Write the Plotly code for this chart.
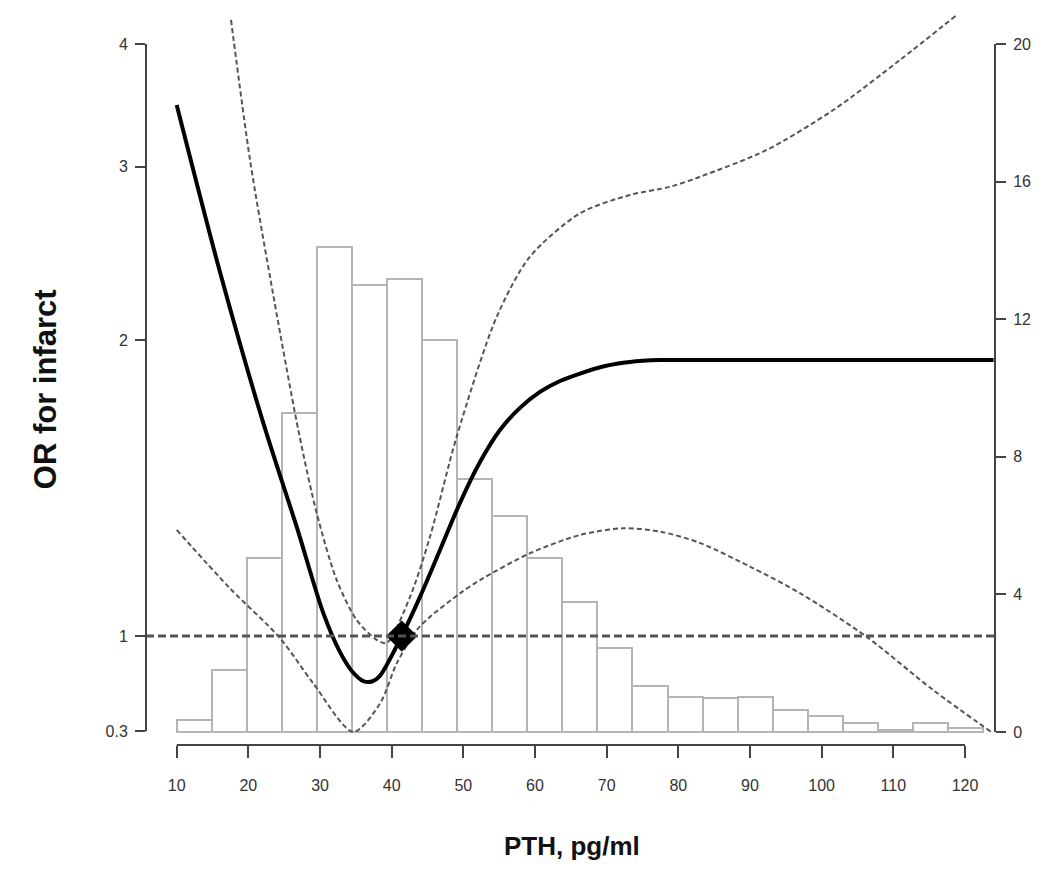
import plotly.graph_objects as go

# ---------------- data ----------------
# Histogram of PTH (percent of patients), bins of 5 pg/ml starting at 10
hist_bin_start = 10
hist_bin_width = 5
hist_pct = [0.35, 1.80, 5.06, 9.27, 14.10, 12.99, 13.17, 11.40, 7.35, 6.28, 5.06,
            3.78, 2.44, 1.34, 1.02, 0.99, 1.03, 0.64, 0.47, 0.25, 0.06, 0.27, 0.11]

# Odds ratio curve (solid)
or_x = [10.0, 16.04, 22.08, 26.75, 30.46, 32.79, 34.46, 36.04, 37.25, 38.36,
        41.40, 43.95, 46.74, 49.53, 52.32, 55.11, 57.90, 60.69, 63.49, 66.28,
        69.77, 73.26, 77.44, 83.03, 124.0]
or_y = [3.467, 2.345, 1.647, 1.291, 1.055, 0.963, 0.921, 0.900, 0.899, 0.911,
        1.000, 1.096, 1.223, 1.366, 1.503, 1.620, 1.706, 1.771, 1.817, 1.849,
        1.882, 1.900, 1.908, 1.909, 1.909]

# Upper 95% CI (dashed)
up_x = [17.58, 20.23, 23.02, 26.97, 29.54, 32.33, 35.12, 37.91, 39.31, 42.56,
        45.35, 49.07, 54.66, 59.30, 66.28, 73.26, 78.84, 83.03, 92.33, 101.63,
        110.93, 118.85]
up_y = [4.232, 3.049, 2.319, 1.620, 1.333, 1.140, 1.038, 0.991, 0.984, 1.096,
        1.262, 1.595, 2.112, 2.431, 2.691, 2.809, 2.863, 2.931, 3.121, 3.427,
        3.853, 4.281]

# Lower 95% CI (dashed)
lo_x = [10.0, 17.44, 24.42, 29.06, 34.64, 38.37, 40.70, 43.49, 45.35, 49.53,
        52.32, 59.30, 66.28, 72.32, 77.49, 83.07, 90.05, 97.03, 106.29, 115.58, 123.96]
lo_y = [1.282, 1.118, 0.995, 0.895, 0.799, 0.854, 0.938, 1.014, 1.046, 1.105,
        1.140, 1.214, 1.267, 1.287, 1.277, 1.243, 1.176, 1.105, 0.998, 0.881, 0.796]

# Reference point (OR = 1)
ref_x = [41.4]
ref_y = [1.0]
REF_OR = 1

x_ticks = [10, 20, 30, 40, 50, 60, 70, 80, 90, 100, 110, 120]
or_tickvals = [0.8, 1, 2, 3, 4]
or_ticktext = ["0.3", "1", "2", "3", "4"]
pct_ticks = [0, 4, 8, 12, 16, 20]

# ---------------- figure ----------------
FONT = "Liberation Sans, Arial, Helvetica, sans-serif"
AX_COLOR = "#444444"
TICK_FONT = dict(family=FONT, size=16, color="#333333")

bin_centers = [hist_bin_start + hist_bin_width * (i + 0.5) for i in range(len(hist_pct))]

fig = go.Figure()

fig.add_trace(go.Bar(
    x=bin_centers, y=hist_pct, width=hist_bin_width,
    marker=dict(color="white", line=dict(color="#b4b4b4", width=2)),
    xaxis="x", yaxis="y", showlegend=False, hoverinfo="skip",
))

ci_line = dict(color="#555555", width=2, dash="5px,3px")
fig.add_trace(go.Scatter(x=up_x, y=up_y, mode="lines", line=dict(**ci_line, shape="spline", smoothing=0.8),
                         xaxis="x2", yaxis="y2", showlegend=False))
fig.add_trace(go.Scatter(x=lo_x, y=lo_y, mode="lines", line=dict(**ci_line, shape="spline", smoothing=0.8),
                         xaxis="x2", yaxis="y2", showlegend=False))
fig.add_trace(go.Scatter(x=or_x, y=or_y, mode="lines",
                         line=dict(color="black", width=4, shape="spline", smoothing=0.8),
                         xaxis="x2", yaxis="y2", showlegend=False))
fig.add_trace(go.Scatter(x=ref_x, y=ref_y, mode="markers",
                         marker=dict(symbol="diamond", size=24, color="black"),
                         xaxis="x2", yaxis="y2", showlegend=False))

shapes = [
    # reference line OR = 1
    dict(type="line", xref="paper", x0=0, x1=1, yref="y2", y0=REF_OR, y1=REF_OR,
         line=dict(color="#555555", width=3, dash="8px,4px")),
    # left axis line
    dict(type="line", xref="paper", x0=0, x1=0, yref="y2", y0=or_tickvals[0], y1=or_tickvals[-1],
         line=dict(color=AX_COLOR, width=2)),
    # right axis line
    dict(type="line", xref="paper", x0=1, x1=1, yref="y", y0=pct_ticks[0], y1=pct_ticks[-1],
         line=dict(color=AX_COLOR, width=2)),
    # bottom axis line
    dict(type="line", xref="x2", x0=x_ticks[0], x1=x_ticks[-1], yref="paper", y0=0, y1=0,
         line=dict(color=AX_COLOR, width=2)),
]

fig.update_layout(
    width=1042, height=869,
    margin=dict(l=138, r=55, t=2, b=132),
    paper_bgcolor="white", plot_bgcolor="white",
    font=dict(family=FONT),
    bargap=0,
    shapes=shapes,
    xaxis=dict(range=[5.622, 126.70], visible=False, showgrid=False, zeroline=False),
    yaxis=dict(range=[-0.378, 20.99], side="right", tickvals=pct_ticks,
               ticks="outside", ticklen=10, tickwidth=2, tickcolor=AX_COLOR,
               ticklabelstandoff=4,
               showline=False, showgrid=False, zeroline=False, tickfont=TICK_FONT),
    xaxis2=dict(overlaying="x", anchor="y2", side="bottom", range=[5.716, 124.19],
                tickvals=x_ticks, ticks="outside", ticklen=12, tickwidth=2, tickcolor=AX_COLOR,
                ticklabelstandoff=14,
                showline=False, showgrid=False, zeroline=False, tickfont=TICK_FONT),
    yaxis2=dict(overlaying="y", anchor="x2", side="left", type="log",
                range=[-0.1108, 0.6366], tickvals=or_tickvals, ticktext=or_ticktext,
                ticks="outside", ticklen=10, tickwidth=2, tickcolor=AX_COLOR,
                ticklabelstandoff=4,
                showline=False, showgrid=False, zeroline=False, tickfont=TICK_FONT),
    annotations=[
        dict(text="<b>OR for infarct</b>", xref="paper", yref="paper",
             x=-0.119, y=0.484, xanchor="center", yanchor="middle", textangle=-90,
             showarrow=False, font=dict(family=FONT, size=31, color="#111111")),
        dict(text="<b>PTH, pg/ml</b>", xref="paper", yref="paper",
             x=0.5018, y=-0.137, xanchor="center", yanchor="middle",
             showarrow=False, font=dict(family=FONT, size=26, color="#111111")),
    ],
)

fig.write_html("out.html")
